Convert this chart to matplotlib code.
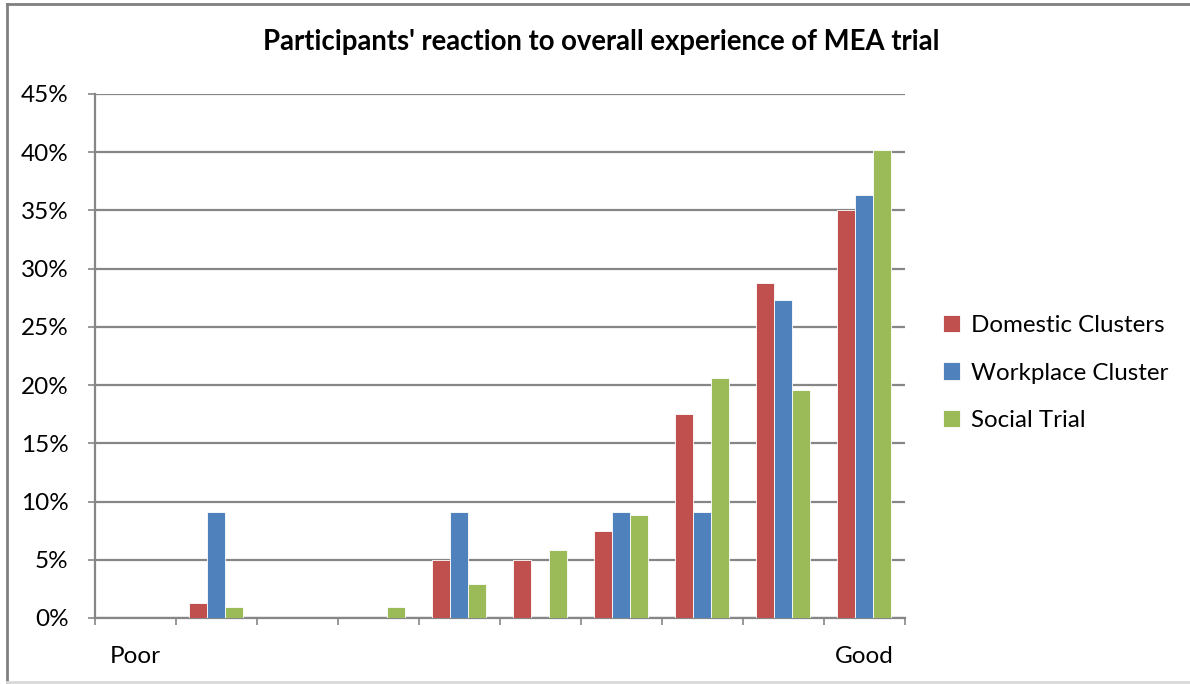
import numpy as np
import matplotlib.pyplot as plt
from matplotlib.lines import Line2D

plt.rcParams['font.family'] = ['Lato', 'DejaVu Sans']

# rating scale 1..10, only the two ends are labelled
rating_labels = ['Poor', '', '', '', '', '', '', '', '', 'Good']
series_names = ['Domestic Clusters', 'Workplace Cluster', 'Social Trial']
domestic = [0, 1.25, 0, 0, 5.0, 5.0, 7.5, 17.5, 28.75, 35.0]
workplace = [0, 9.09, 0, 0, 9.09, 0, 9.09, 9.09, 27.27, 36.36]
social = [0, 0.98, 0, 0.98, 2.94, 5.88, 8.82, 20.59, 19.61, 40.2]
colors = ['#C0504D', '#4F81BD', '#9BBB59']

fig = plt.figure(figsize=(11.9, 6.84), dpi=100)
ax = fig.add_axes([0.0798, 0.0965, 0.6807, 0.7661])

x = np.arange(len(rating_labels))
w = 1 / 4.5
for i, (vals, name, c) in enumerate(zip([domestic, workplace, social], series_names, colors)):
    ax.bar(x + (i - 1) * w, vals, width=w, color=c, edgecolor='white',
           linewidth=0.6, label=name, zorder=3)

ax.set_xlim(-0.5, 9.5)
ax.set_ylim(0, 45)
ax.set_yticks(range(0, 50, 5))
ax.set_yticklabels([f'{v}%' for v in range(0, 50, 5)], fontsize=17.5)
ax.yaxis.grid(True, color='#868686', linewidth=1.6, zorder=0)

# category boundaries get the tick marks, labels sit in the middle
ax.set_xticks(np.arange(-0.5, 10, 1))
ax.set_xticklabels([])
ax.set_xticks(x, minor=True)
ax.set_xticklabels(rating_labels, minor=True, fontsize=17.5)
ax.tick_params(axis='x', which='minor', length=0, pad=20)
ax.tick_params(axis='x', which='major', length=5, width=1.2, color='#868686')
ax.tick_params(axis='y', length=5, width=1.2, color='#868686', pad=14)

for s in ['top', 'right']:
    ax.spines[s].set_visible(False)
for s in ['left', 'bottom']:
    ax.spines[s].set_color('#868686')
    ax.spines[s].set_linewidth(1.6)

fig.suptitle("Participants' reaction to overall experience of MEA trial",
             fontsize=19.8, fontweight='bold', x=0.505, y=0.958)

fig.legend(loc='center left', bbox_to_anchor=(0.774, 0.4547), frameon=False,
           fontsize=17.4, handlelength=0.72, handleheight=0.72,
           handletextpad=0.45, labelspacing=1.1)

# chart frame
fig.add_artist(Line2D([0.0063, 0.0063], [0.0025, 0.9935], transform=fig.transFigure,
                      color='#808080', linewidth=2))
fig.add_artist(Line2D([0.0063, 1.0], [0.9935, 0.9935], transform=fig.transFigure,
                      color='#808080', linewidth=2))
fig.add_artist(Line2D([0.0063, 1.0], [0.0025, 0.0025], transform=fig.transFigure,
                      color='#d9d9d9', linewidth=2))

fig.savefig('out.png', dpi=100)
